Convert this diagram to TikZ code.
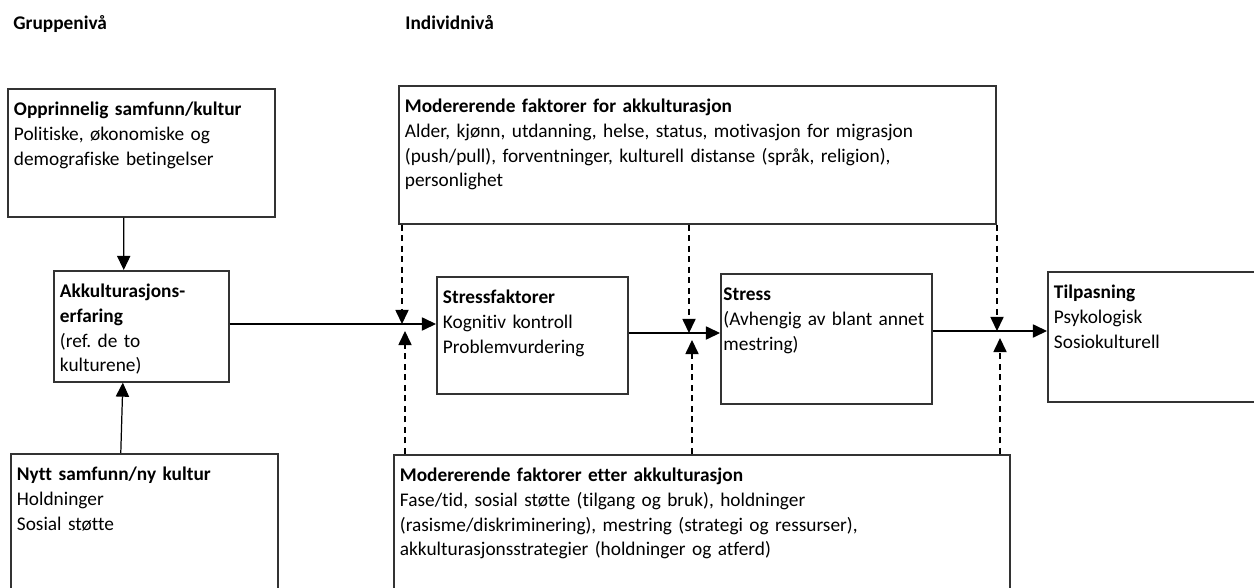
\documentclass[tikz,border=0pt]{standalone}
\usepackage{fontspec}
\setmainfont{Carlito}[Ligatures=NoCommon]
\usetikzlibrary{arrows.meta}

\begin{document}
\begin{tikzpicture}[x=0.02cm, y=-0.02cm, >={Triangle[length=8pt,width=7.5pt]},
      font=\fontsize{11pt}{14pt}\selectfont\frenchspacing,
      box/.style 2 args={draw=black!80, line width=0.9pt, anchor=north west, align=left,
        inner xsep=3.5pt, inner ysep=4pt, text width=#1, text height=11.4pt, text depth=#2},
      lvl/.style={anchor=base west, inner sep=0pt, font=\fontsize{11pt}{14pt}\selectfont\bfseries},
      link/.style={->, line width=0.7pt},
      mod/.style={->, line width=0.7pt, dash pattern=on 3.5pt off 2.5pt}]
  \useasboundingbox (0,0) rectangle (1254,588);
  \clip (0,0) rectangle (1254,588);
  \node[lvl] (grp) at (13,30) {Gruppenivå};
  \node[lvl] (ind) at (405,30) {Individnivå};
  \node[box={145pt}{53.5pt}] (opp) at (7,88)
        {\textbf{Opprinnelig samfunn/kultur}\\Politiske, økonomiske og\\demografiske betingelser};
  \node[box={92.6pt}{43.8pt}] (akk) at (53,270)
        {\textbf{Akkulturasjons-}\\\textbf{erfaring}\\(ref. de to\\kulturene)};
  \node[box={145pt}{64.3pt}] (nytt) at (10,453)
        {\textbf{Nytt samfunn/ny kultur}\\Holdninger\\Sosial støtte};
  \node[box={332.8pt}{59.1pt}] (modfor) at (398,85)
        {\textbf{Modererende faktorer for akkulturasjon}\\Alder, kjønn, utdanning, helse, status, motivasjon for migrasjon\\(push/pull), forventninger, kulturell distanse (språk, religion),\\personlighet};
  \node[box={101.7pt}{47.2pt}] (stressf) at (436,276)
        {\textbf{Stressfaktorer}\\Kognitiv kontroll\\Problemvurdering};
  \node[box={117.1pt}{54.6pt}, inner xsep=1.5pt] (stress) at (720,273)
        {\textbf{Stress}\\(Avhengig av blant annet\\mestring)};
  \node[box={119.9pt}{54.6pt}] (tilp) at (1047,271)
        {\textbf{Tilpasning}\\Psykologisk\\Sosiokulturell};
  \node[box={343.6pt}{63.7pt}] (modetter) at (393,454)
        {\textbf{Modererende faktorer etter akkulturasjon}\\Fase/tid, sosial støtte (tilgang og bruk), holdninger\\(rasisme/diskriminering), mestring (strategi og ressurser),\\akkulturasjonsstrategier (holdninger og atferd)};
  \coordinate (j1) at (402,324);  \coordinate (j1b) at (405,331);
  \coordinate (j2) at (689,333);  \coordinate (j2b) at (692,340);
  \coordinate (j3) at (997,331);  \coordinate (j3b) at (1000,338);
  \draw[link] ([xshift=-10pt]opp.south) -- ([xshift=-10pt]akk.north);
  \draw[link] ([xshift=-13.4pt]nytt.north) -- ([xshift=-10.5pt]akk.south);
  \draw[link] (akk.east |- j1) -- (stressf.west |- j1);
  \draw[link] (stressf.east |- j2) -- (stress.west |- j2);
  \draw[link] (stress.east |- j3) -- (tilp.west |- j3);
  \draw[mod] (modfor.south -| j1) -- (j1);
  \draw[mod] (modfor.south -| j2) -- (j2);
  \draw[mod] (modfor.south -| j3) -- (j3);
  \draw[mod] (modetter.north -| j1b) -- (j1b);
  \draw[mod] (modetter.north -| j2b) -- (j2b);
  \draw[mod] (modetter.north -| j3b) -- (j3b);
\end{tikzpicture}
\end{document}
